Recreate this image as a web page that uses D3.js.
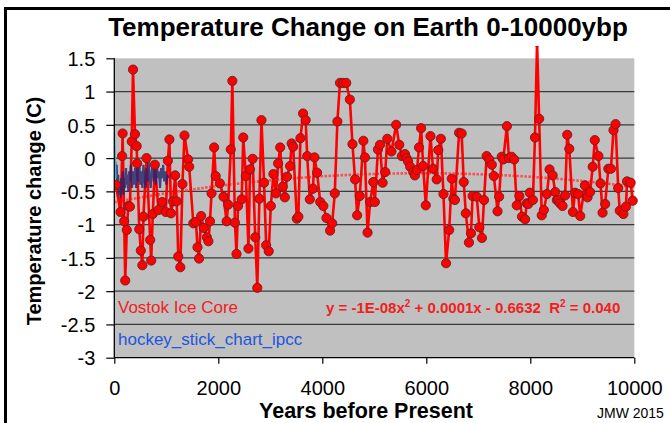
<!DOCTYPE html>
<html>
<head>
<meta charset="utf-8">
<script src="https://cdn.jsdelivr.net/npm/d3@7"></script>
<style>
  html, body { margin: 0; padding: 0; background: #fff; }
  svg { display: block; font-family: "Liberation Sans", Arial, sans-serif; }
</style>
</head>
<body>
<div id="chart"></div>
<script>
// Vostok ice core, years before present and temperature change (C)
const vostokYears = [
  30, 120, 150, 160, 190, 210, 240, 270, 300, 335,
  360, 398, 430, 440, 480, 510, 540, 560, 620, 690,
  710, 740, 780, 850, 920, 990, 1030, 1060, 1090, 1130,
  1170, 1200, 1230, 1270, 1310, 1350, 1420, 1440, 1520, 1570,
  1600, 1630, 1670, 1720, 1780, 1810, 1840, 1870, 1920, 1950,
  2030, 2100, 2160, 2190, 2240, 2270, 2320, 2350, 2380, 2450,
  2480, 2530, 2580, 2610, 2660, 2710, 2750, 2790, 2830, 2880,
  2920, 2970, 3010, 3060, 3110, 3150, 3190, 3240, 3280, 3320,
  3380, 3410, 3440, 3510, 3540, 3580, 3630, 3680, 3710, 3760,
  3820, 3850, 3900, 3960, 4020, 4080, 4150, 4190, 4240, 4290,
  4340, 4400, 4460, 4530, 4580, 4630, 4670, 4720, 4790, 4820,
  4870, 4920, 4980, 5010, 5070, 5110, 5160, 5210, 5250, 5330,
  5420, 5480, 5530, 5590, 5620, 5650, 5690, 5750, 5780, 5820,
  5860, 5900, 5940, 5990, 6080, 6130, 6200, 6230, 6280, 6330,
  6380, 6440, 6490, 6520, 6550, 6630, 6680, 6720, 6760, 6820,
  6860, 6890, 6970, 7020, 7070, 7110, 7160, 7210, 7260, 7300,
  7370, 7400, 7450, 7480, 7550, 7590, 7640, 7690, 7740, 7790,
  7840, 7900, 7930, 7960, 7990, 8050, 8090, 8130, 8170, 8220,
  8260, 8320, 8370, 8430, 8480, 8510, 8540, 8570, 8620, 8670,
  8710, 8750, 8820, 8860, 8920, 8960, 9050, 9100, 9150, 9200,
  9240, 9310, 9350, 9390, 9440, 9500, 9550, 9600, 9640, 9690,
  9720, 9790, 9840, 9860, 9930, 9970
];
const vostokTemps = [
  -0.40, -0.81, 0.03, 0.37, -0.95, -1.84, -1.08, -0.72, -0.73, 0.25,
  1.33, 0.36, 0.18, -0.08, -1.07, -1.39, -1.61, -0.88, 0.00, -1.23,
  -1.54, -0.84, -0.10, -0.78, -0.66, -0.81, -0.04, 0.28, -0.83, -0.65,
  -0.26, -0.65, -1.48, -1.64, -0.39, 0.34, -0.02, -0.13, -0.98, -0.96,
  -1.34, -1.51, -0.87, -1.05, -1.19, -1.25, -0.95, -0.53, 0.16, -0.27,
  -0.38, -0.58, -0.95, -0.70, 0.13, 1.16, -0.97, -1.44, -0.72, -0.62,
  0.31, -0.27, -1.36, -0.17, -0.01, -1.19, -1.95, -0.61, 0.57, -0.37,
  -1.31, -1.40, -0.72, -0.24, -0.53, -0.08, 0.16, -0.43, -0.59, -0.28,
  -0.12, 0.22, 0.17, -0.91, -0.88, 0.30, 0.67, 0.57, 0.03, -0.62,
  -0.46, 0.01, -0.22, -0.66, -0.72, -0.90, -1.09, -0.98, -0.53, 0.55,
  1.13, 1.13, 1.13, 0.88, 0.21, -0.32, -0.86, -0.57, 0.26, 0.01,
  -1.12, -0.66, -0.36, -0.66, 0.13, 0.20, -0.37, -0.21, 0.29, 0.10,
  0.50, 0.20, 0.03, 0.06, 0.00, -0.05, -0.13, -0.21, -0.26, -0.18,
  0.16, 0.45, -0.12, -0.71, 0.33, -0.16, -0.32, 0.12, 0.29, -0.54,
  -1.58, -1.08, -0.31, -0.61, -0.63, 0.38, 0.37, -0.36, -0.83, -1.27,
  -1.13, -0.57, -0.58, -1.04, -1.20, -0.63, 0.03, -0.02, -0.10, -0.27,
  -0.80, -0.58, 0.02, -0.02, 0.48, 0.00, 0.02, -0.02, -0.71, -0.57,
  -0.88, -0.92, -0.68, -0.69, -0.52, -0.63, 0.31, 1.75, 0.59, -0.86,
  -0.78, -0.54, -0.17, -0.26, -0.51, -0.63, -0.63, -0.68, -0.72, -0.56,
  0.35, 0.14, -0.81, -0.52, -0.54, -0.87, -0.41, -0.59, -0.51, -0.13,
  0.27, 0.03, -0.38, -0.82, -0.69, -0.16, -0.16, 0.42, 0.51, -0.45,
  -0.79, -0.84, -0.73, -0.35, -0.37, -0.64
];

// hockey stick overlay (first ~1000 years)
const hockeyYears = [
  0, 8, 18, 30, 45, 60, 75, 90, 105, 120,
  135, 150, 165, 180, 195, 210, 225, 240, 255, 270,
  285, 300, 320, 340, 360, 380, 400, 420, 440, 460,
  480, 500, 520, 540, 560, 580, 600, 620, 640, 660,
  680, 700, 720, 740, 760, 780, 800, 820, 840, 860,
  880, 900, 920, 940, 960, 980, 1000, 1020, 1040
];
const hockeyTemps = [
  0.40, 0.20, -0.05, -0.30, -0.10, -0.45, -0.25, -0.55, -0.35, -0.60,
  -0.30, -0.50, -0.20, -0.55, -0.30, -0.45, -0.15, -0.40, -0.25, -0.50,
  -0.20, -0.35, -0.10, -0.45, -0.20, -0.40, -0.15, -0.45, -0.10, -0.35,
  -0.05, -0.40, -0.20, -0.45, -0.10, -0.30, -0.45, -0.15, -0.35, -0.05,
  -0.30, -0.45, -0.20, -0.05, -0.35, -0.15, -0.40, -0.10, -0.30, -0.20,
  -0.45, -0.15, -0.30, -0.10, -0.35, -0.20, -0.40, -0.25, -0.30
];

// polynomial trend (a x^2 + b x + c)
const trendCoef = [-1.24e-8, 1.47e-4, -0.6632];

const xTicks = [0, 2000, 4000, 6000, 8000, 10000];
const yTicks = [-3, -2.5, -2, -1.5, -1, -0.5, 0, 0.5, 1, 1.5];
const gridValues = [-2.5, -2, -1.5, -1, -0.5, 0, 0.5, 1];

const W = 670, H = 423;
const plot = { left: 114.3, right: 634.3, top: 58.3, bottom: 357.7 };

const x = d3.scaleLinear().domain([0, 10000]).range([plot.left, plot.right]);
const y = d3.scaleLinear().domain([-3, 1.5]).range([plot.bottom, plot.top]);

const svg = d3.select('#chart').append('svg')
  .attr('width', W)
  .attr('height', H);

svg.append('rect').attr('width', W).attr('height', H).attr('fill', '#fff');

// outer frame (only left and top edges are inside the picture)
svg.append('line').attr('x1', 5.5).attr('x2', 5.5).attr('y1', 7).attr('y2', H)
  .attr('stroke', '#000').attr('stroke-width', 3);
svg.append('line').attr('x1', 4).attr('x2', W).attr('y1', 8.5).attr('y2', 8.5)
  .attr('stroke', '#000').attr('stroke-width', 3);

svg.append('rect')
  .attr('x', plot.left).attr('y', plot.top)
  .attr('width', plot.right - plot.left).attr('height', plot.bottom - plot.top)
  .attr('fill', '#c0c0c0');

svg.append('g').selectAll('line')
  .data(gridValues)
  .enter().append('line')
  .attr('x1', plot.left).attr('x2', plot.right)
  .attr('y1', d => y(d)).attr('y2', d => y(d))
  .attr('stroke', '#3a3a3a').attr('stroke-width', 1.3);

svg.append('clipPath').attr('id', 'clip')
  .append('rect')
  .attr('x', plot.left).attr('y', 46)
  .attr('width', plot.right - plot.left + 10).attr('height', plot.bottom - 46);

const layer = svg.append('g').attr('clip-path', 'url(#clip)');

// trend line
const trendPts = d3.range(0, 10001, 100).map(t => [t, trendCoef[0] * t * t + trendCoef[1] * t + trendCoef[2]]);
layer.append('path')
  .attr('d', d3.line().x(d => x(d[0])).y(d => y(d[1]))(trendPts))
  .attr('fill', 'none')
  .attr('stroke', '#ff4d4d')
  .attr('stroke-width', 2.6)
  .attr('stroke-dasharray', '2.5,1.5');

const vostok = d3.zip(vostokYears, vostokTemps);
layer.append('path')
  .attr('d', d3.line().x(d => x(d[0])).y(d => y(d[1]))(vostok))
  .attr('fill', 'none')
  .attr('stroke', '#ff0000')
  .attr('stroke-width', 2.6)
  .attr('stroke-linejoin', 'round');

const hockey = d3.zip(hockeyYears, hockeyTemps);
layer.append('path')
  .attr('d', d3.line().x(d => x(d[0])).y(d => y(d[1]))(hockey.slice(2)))
  .attr('fill', 'none')
  .attr('stroke', '#22226e')
  .attr('stroke-opacity', 0.8)
  .attr('stroke-width', 2.2);
layer.append('path')
  .attr('d', d3.line().x(d => x(d[0])).y(d => y(d[1]))(hockey.slice(0, 4)))
  .attr('fill', 'none')
  .attr('stroke', '#30b8c8')
  .attr('stroke-width', 1.6);

layer.append('g').selectAll('circle')
  .data(vostok)
  .enter().append('circle')
  .attr('cx', d => x(d[0]))
  .attr('cy', d => y(d[1]))
  .attr('r', 4.6)
  .attr('fill', '#ff0000')
  .attr('stroke', '#6a2020')
  .attr('stroke-width', 0.9);

// axes
const yAxis = svg.append('g')
  .attr('transform', `translate(${plot.left},0)`)
  .call(d3.axisLeft(y).tickValues(yTicks).tickSize(8).tickPadding(11).tickFormat(d => String(d)));
const xAxis = svg.append('g')
  .attr('transform', `translate(0,${plot.bottom})`)
  .call(d3.axisBottom(x).tickValues(xTicks).tickSize(6).tickFormat(d => String(d)));

[yAxis, xAxis].forEach(a => {
  a.select('.domain').attr('stroke', '#000').attr('stroke-width', 1.3);
  a.selectAll('.tick line').attr('stroke', '#000').attr('stroke-width', 1.2);
  a.selectAll('.tick text')
    .attr('font-family', '"Liberation Sans", Arial, sans-serif')
    .attr('font-size', 20)
    .attr('fill', '#000');
});
xAxis.select('.domain').attr('d', `M${plot.left},0H${plot.right}`);
yAxis.select('.domain').attr('d', `M0,${plot.top}V${plot.bottom}`);
xAxis.selectAll('.tick text').attr('y', 37).attr('dy', 0);
yAxis.selectAll('.tick text').attr('dy', '0.36em');

// texts
svg.append('text')
  .attr('x', 368).attr('y', 36)
  .attr('text-anchor', 'middle')
  .attr('font-size', 26).attr('font-weight', 'bold')
  .text('Temperature Change on Earth 0-10000ybp');

svg.append('text')
  .attr('transform', 'translate(41,211) rotate(-90)')
  .attr('text-anchor', 'middle')
  .attr('font-size', 20).attr('font-weight', 'bold')
  .text('Temperature change (C)');

svg.append('text')
  .attr('x', 366).attr('y', 418)
  .attr('text-anchor', 'middle')
  .attr('font-size', 21.5).attr('font-weight', 'bold')
  .text('Years before Present');

svg.append('text')
  .attr('x', 597).attr('y', 418)
  .attr('font-size', 14)
  .text('JMW 2015');

svg.append('text')
  .attr('x', 118).attr('y', 313)
  .attr('font-size', 17).attr('fill', '#f02020')
  .text('Vostok Ice Core');

svg.append('text')
  .attr('x', 118).attr('y', 345)
  .attr('font-size', 17).attr('fill', '#2255dd')
  .text('hockey_stick_chart_ipcc');

const eq = svg.append('text')
  .attr('x', 326).attr('y', 313)
  .style('white-space', 'pre')
  .attr('font-size', 15).attr('font-weight', 'bold').attr('fill', '#f02020');
eq.append('tspan').text('y = -1E-08x');
eq.append('tspan').attr('dy', -6).attr('font-size', 10).text('2');
eq.append('tspan').attr('dy', 6).text(' + 0.0001x - 0.6632  R');
eq.append('tspan').attr('dy', -6).attr('font-size', 10).text('2');
eq.append('tspan').attr('dy', 6).text(' = 0.040');
</script>
</body>
</html>
